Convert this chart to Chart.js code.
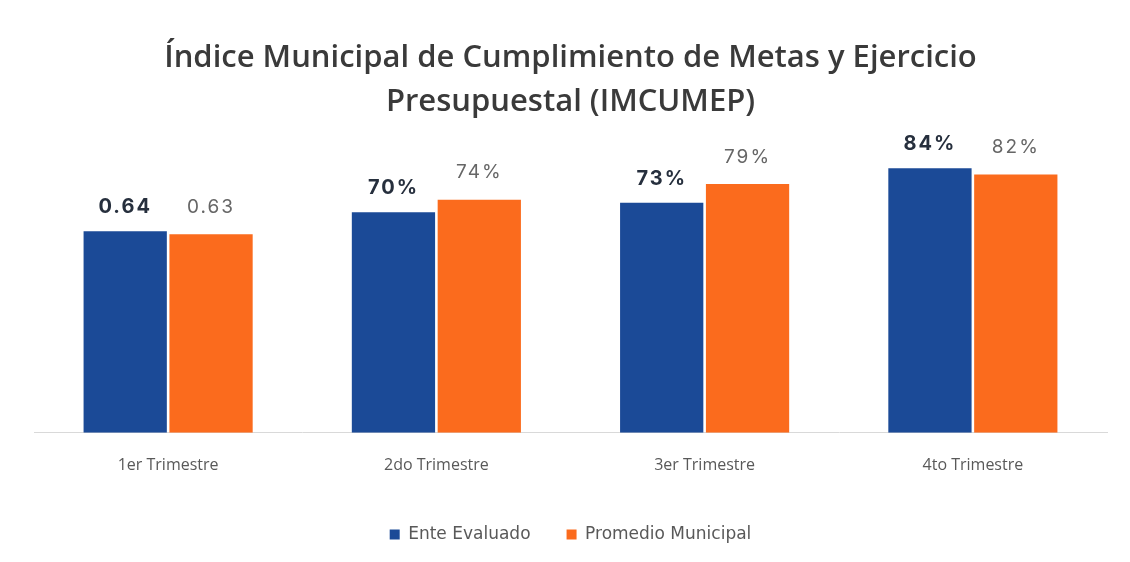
<!DOCTYPE html>
<html>
<head>
<meta charset="utf-8">
<script src="https://cdn.jsdelivr.net/npm/chart.js@4"></script>
<style>
  html, body { margin: 0; padding: 0; background: #fff; }
  #wrap { width: 1130px; height: 562px; }
</style>
</head>
<body>
<div id="wrap"><canvas id="myChart"></canvas></div>
<script>
var trimestres = ['1er Trimestre', '2do Trimestre', '3er Trimestre', '4to Trimestre'];
var enteEvaluado = [0.64, 0.70, 0.73, 0.84];
var promedioMunicipal = [0.63, 0.74, 0.79, 0.82];

var azul = '#1b4a97';
var naranja = '#fb6b1d';

function etiqueta(v, i) {
    if (i === 0) return v.toFixed(2);
    return Math.round(v * 100) + '%';
}

// etiquetas de valor sobre cada barra
var valoresPlugin = {
    id: 'valores',
    afterDatasetsDraw: function (chart) {
        var ctx = chart.ctx;
        chart.data.datasets.forEach(function (ds, d) {
            var meta = chart.getDatasetMeta(d);
            meta.data.forEach(function (bar, i) {
                ctx.save();
                ctx.textAlign = 'center';
                ctx.textBaseline = 'middle';
                ctx.letterSpacing = '2px';
                var off;
                if (d === 0) {
                    ctx.font = 'bold 20px Inter';
                    ctx.fillStyle = '#262f3d';
                    off = 24;
                } else {
                    ctx.font = '19px Inter';
                    ctx.fillStyle = '#666666';
                    off = 27;
                }
                ctx.fillText(etiqueta(ds.data[i], i), bar.x, bar.y - off);
                ctx.restore();
            });
        });
    }
};

var myChart = document.getElementById('myChart').getContext('2d');
var chart = new Chart(myChart, {
    type: 'bar',
    data: {
        labels: trimestres,
        datasets: [{
            label: 'Ente Evaluado',
            data: enteEvaluado,
            backgroundColor: azul,
            categoryPercentage: 0.64,
            barPercentage: 0.97
        }, {
            label: 'Promedio Municipal',
            data: promedioMunicipal,
            backgroundColor: naranja,
            categoryPercentage: 0.64,
            barPercentage: 0.97
        }]
    },
    plugins: [valoresPlugin],
    options: {
        responsive: true,
        maintainAspectRatio: false,
        animation: false,
        layout: { padding: { left: 34, right: 23, top: 0, bottom: 9 } },
        scales: {
            x: {
                grid: { display: false },
                border: { display: true, color: '#d9d9d9', width: 1 },
                ticks: { color: '#595959', font: { family: 'Open Sans', size: 16 }, padding: 15 }
            },
            y: {
                display: false,
                min: 0,
                max: 0.98
            }
        },
        plugins: {
            title: {
                display: true,
                text: ['Índice Municipal de Cumplimiento de Metas y Ejercicio', 'Presupuestal (IMCUMEP)'],
                color: '#3a3a3a',
                font: { family: 'Open Sans', size: 31, weight: '600', lineHeight: 1.42 },
                padding: { top: 36, bottom: 0 }
            },
            legend: {
                position: 'bottom',
                labels: {
                    color: '#595959',
                    font: { family: 'DejaVu Sans', size: 17 },
                    boxWidth: 10,
                    boxHeight: 10,
                    padding: 36
                }
            },
            tooltip: { enabled: false }
        }
    }
});
</script>
</body>
</html>
